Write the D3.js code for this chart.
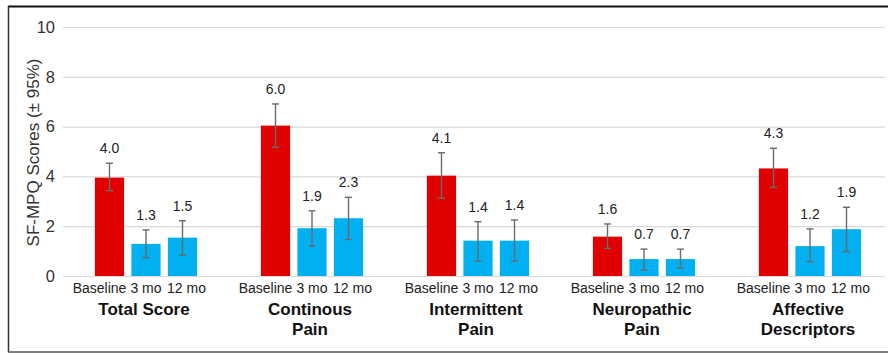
<!DOCTYPE html>
<html lang="en">
<meta charset="utf-8">
<head>
    <title>SF-MPQ Scores</title>
    <script src="https://d3js.org/d3.v7.min.js"></script>
    <style>
        body { margin: 0; background: #fff; }
        svg { display: block; font-family: "Liberation Sans", Arial, sans-serif; }
    </style>
</head>
<body>
<div id="chart"></div>
<script>
    // chart data
    const groups = [["Total Score"], ["Continous", "Pain"], ["Intermittent", "Pain"],
                    ["Neuropathic", "Pain"], ["Affective", "Descriptors"]];
    const periods = ["Baseline", "3 mo", "12 mo"];
    const baseline = [3.95, 6.04, 4.03, 1.58, 4.32];
    const mo3 = [1.29, 1.92, 1.42, 0.68, 1.20];
    const mo12 = [1.54, 2.32, 1.42, 0.68, 1.88];
    const valueLabels = [["4.0", "1.3", "1.5"], ["6.0", "1.9", "2.3"], ["4.1", "1.4", "1.4"],
                         ["1.6", "0.7", "0.7"], ["4.3", "1.2", "1.9"]];
    const ciLow = [[3.43, 0.73, 0.84], [5.17, 1.20, 1.47], [3.12, 0.60, 0.60],
                   [1.11, 0.24, 0.33], [3.56, 0.57, 0.98]];
    const ciHigh = [[4.53, 1.85, 2.22], [6.91, 2.62, 3.16], [4.95, 2.18, 2.25],
                    [2.09, 1.08, 1.08], [5.13, 1.89, 2.76]];
    const yTicks = [0, 2, 4, 6, 8, 10];

    const W = 888, H = 354;
    const plot = {left: 63, right: 893, top: 27, bottom: 276};

    let svg = d3.select("#chart").append("svg")
        .attr("width", W)
        .attr("height", H);

    // frame
    svg.append("line").attr("x1", 8).attr("x2", W).attr("y1", 6.5).attr("y2", 6.5)
        .attr("stroke", "#111").attr("stroke-width", 2);
    svg.append("line").attr("x1", 8.5).attr("x2", 8.5).attr("y1", 6).attr("y2", 352)
        .attr("stroke", "#333").attr("stroke-width", 1.5);
    svg.append("line").attr("x1", 8).attr("x2", W).attr("y1", 352).attr("y2", 352)
        .attr("stroke", "#555").attr("stroke-width", 1.5);

    let x0 = d3.scaleBand()
        .domain(d3.range(groups.length))
        .range([plot.left, plot.right]);

    let x1 = d3.scaleBand()
        .domain(periods)
        .range([x0.bandwidth() / 2 - 54.75, x0.bandwidth() / 2 + 54.75])
        .paddingInner(0.2)
        .paddingOuter(0.1);

    let y = d3.scaleLinear()
        .domain([0, 10])
        .range([plot.bottom, plot.top]);

    // gridlines + tick labels
    let yAxis = d3.axisLeft(y).tickValues(yTicks).tickSize(-(885 - plot.left)).tickPadding(8);
    let gy = svg.append("g")
        .attr("transform", "translate(" + plot.left + ",0)")
        .call(yAxis);
    gy.select(".domain").remove();
    gy.selectAll(".tick line").attr("stroke", "#d9d9d9").attr("stroke-width", 1.2);
    gy.selectAll(".tick text")
        .attr("font-size", 16.5)
        .attr("fill", "#333")
        .attr("font-family", "Liberation Sans, Arial, sans-serif");

    svg.append("text")
        .attr("transform", "translate(33," + ((plot.top + plot.bottom) / 2 + 1) + ") rotate(-90)")
        .attr("text-anchor", "middle")
        .attr("dy", "0.35em")
        .attr("font-size", 17)
        .attr("fill", "#333")
        .text("SF-MPQ Scores (\u00b1 95%)");

    const colors = {"Baseline": "#e00000", "3 mo": "#00b0f0", "12 mo": "#00b0f0"};
    const labelShift = {"Baseline": -10, "3 mo": 0, "12 mo": 4};
    const series = [baseline, mo3, mo12];

    let g = svg.selectAll(".grp")
        .data(groups)
        .enter().append("g")
        .attr("class", "grp")
        .attr("transform", (d, i) => "translate(" + x0(i) + ",0)");

    g.each(function(name, gi) {
        let grp = d3.select(this);
        let rows = periods.map((p, pi) => ({
            period: p, value: series[pi][gi], lo: ciLow[gi][pi], hi: ciHigh[gi][pi], label: valueLabels[gi][pi]
        }));

        grp.selectAll("rect")
            .data(rows)
            .enter().append("rect")
            .attr("x", d => x1(d.period))
            .attr("y", d => y(d.value))
            .attr("width", x1.bandwidth())
            .attr("height", d => y(0) - y(d.value))
            .attr("fill", d => colors[d.period]);

        let cx = d => x1(d.period) + x1.bandwidth() / 2;
        let err = grp.selectAll(".err")
            .data(rows)
            .enter().append("g")
            .attr("class", "err")
            .attr("stroke", "#6b6b6b")
            .attr("stroke-width", 1.4);
        err.append("line")
            .attr("x1", cx).attr("x2", cx)
            .attr("y1", d => y(d.lo)).attr("y2", d => y(d.hi));
        err.append("line")
            .attr("x1", d => cx(d) - 3.5).attr("x2", d => cx(d) + 3.5)
            .attr("y1", d => y(d.hi)).attr("y2", d => y(d.hi));
        err.append("line")
            .attr("x1", d => cx(d) - 3.5).attr("x2", d => cx(d) + 3.5)
            .attr("y1", d => y(d.lo)).attr("y2", d => y(d.lo));

        grp.selectAll(".val")
            .data(rows)
            .enter().append("text")
            .attr("class", "val")
            .attr("x", cx)
            .attr("y", d => y(d.hi) - 15)
            .attr("dy", "0.35em")
            .attr("text-anchor", "middle")
            .attr("font-size", 14)
            .attr("fill", "#222")
            .text(d => d.label);

        grp.selectAll(".per")
            .data(rows)
            .enter().append("text")
            .attr("class", "per")
            .attr("x", d => cx(d) + labelShift[d.period])
            .attr("y", 288)
            .attr("dy", "0.35em")
            .attr("text-anchor", "middle")
            .attr("font-size", 14)
            .attr("fill", "#222")
            .text(d => d.period);

        grp.selectAll(".title")
            .data(name)
            .enter().append("text")
            .attr("class", "title")
            .attr("x", x0.bandwidth() / 2 - 2)
            .attr("y", (d, i) => 309 + i * 20)
            .attr("dy", "0.35em")
            .attr("text-anchor", "middle")
            .attr("font-size", 17)
            .attr("font-weight", "bold")
            .attr("fill", "#111")
            .text(d => d);
    });
</script>
</body>
</html>
